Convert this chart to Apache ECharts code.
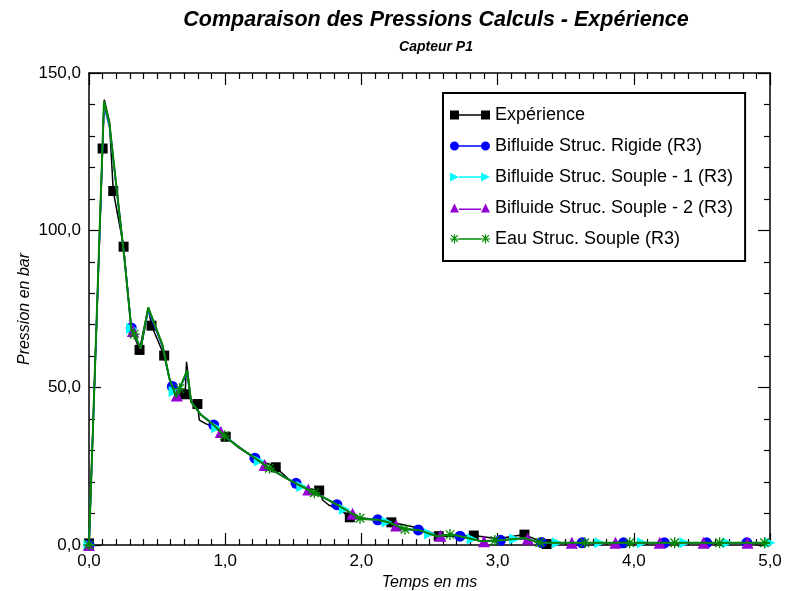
<!DOCTYPE html>
<html>
<head>
<meta charset="utf-8">
<script src="https://cdn.jsdelivr.net/npm/echarts@6/dist/echarts.min.js"></script>
<style>
  html, body { margin: 0; padding: 0; background: #fff; }
  #chart { width: 786px; height: 591px; }
</style>
</head>
<body>
<div id="chart"></div>
<script>
// Expérience : courbe mesurée + points repérés
const expTime = [0, 0.1, 0.112, 0.15, 0.178, 0.254, 0.31, 0.371, 0.435, 0.459, 0.552, 0.59, 0.64, 0.706, 0.716, 0.75, 0.796, 0.81, 0.86, 0.92, 1.004, 1.2, 1.371, 1.485, 1.6, 1.69, 1.715, 1.76, 1.85, 1.915, 2.0, 2.1, 2.22, 2.41, 2.5, 2.568, 2.7, 2.825, 3.0, 3.197, 3.36]
const expPress = [0.5, 126, 141.5, 134.5, 112.5, 94.8, 69, 62, 75.5, 69.7, 60.2, 53, 47.5, 47.9, 58.2, 45.5, 44.8, 39.7, 38.5, 37.5, 34.4, 28, 24.7, 20.2, 18, 17.3, 14.3, 12.7, 11, 8.8, 8.6, 8.2, 7.2, 5.5, 4.2, 2.8, 2.8, 3.0, 2.0, 3.3, 0.3]
const expMarkTime = [0, 0.1, 0.178, 0.254, 0.371, 0.459, 0.552, 0.706, 0.796, 1.004, 1.371, 1.69, 1.915, 2.22, 2.568, 2.825, 3.197, 3.36]
const expMarkPress = [0.5, 126, 112.5, 94.8, 62, 69.7, 60.2, 47.9, 44.8, 34.4, 24.7, 17.3, 8.8, 7.2, 2.8, 3.0, 3.3, 0.3]

// Calculs : pas de temps commun
const simTime = [0, 0.11, 0.15, 0.26, 0.31, 0.38, 0.435, 0.54, 0.59, 0.64, 0.72, 0.75, 0.82, 0.92, 1.0, 1.1, 1.22, 1.33, 1.47, 1.6, 1.7, 1.82, 1.95, 2.0, 2.12, 2.2, 2.32, 2.42, 2.5, 2.56, 2.66, 2.78, 2.88, 3.0, 3.1, 3.2, 3.3, 3.4, 5.0]
const rigidePress = [0, 139.5, 133, 91.5, 69.5, 62.5, 74.5, 63, 53, 47.5, 54.5, 45.5, 41.5, 38.3, 34.6, 31.1, 27.7, 24.3, 20.8, 17.9, 15.7, 12.9, 9.6, 8.4, 8.1, 7.2, 5.0, 4.8, 3.7, 2.9, 3.3, 2.3, 1.3, 1.5, 1.8, 2.1, 0.8, 0.7, 0.7]
const souple1Press = [0, 140, 133.5, 91, 69, 62.5, 75, 63.5, 53, 47.2, 55, 45.5, 41.5, 38, 34.5, 31, 27.6, 24.2, 20.7, 17.8, 15.6, 12.8, 9.5, 8.3, 8.0, 7.2, 5.0, 4.8, 3.6, 2.8, 3.3, 2.2, 1.2, 1.4, 1.8, 2.2, 0.8, 0.7, 0.7]
const souple2Press = [0, 140.5, 134, 91, 68.5, 62.3, 75.3, 63.5, 52.8, 47, 55.3, 45.4, 41.4, 37.9, 34.4, 30.9, 27.5, 24.1, 20.6, 17.8, 15.6, 12.8, 9.5, 8.3, 8.0, 7.2, 5.0, 4.8, 3.6, 2.8, 3.4, 2.2, 1.2, 1.4, 1.8, 2.2, 0.8, 0.7, 0.7]
const eauPress = [0, 141, 134, 91, 69, 62.5, 75.5, 63.5, 53, 47, 55.5, 45.5, 41.5, 38, 34.5, 31, 27.6, 24.2, 20.7, 17.8, 15.6, 12.8, 9.5, 8.3, 8.0, 7.2, 5.0, 4.8, 3.6, 2.8, 3.4, 2.2, 1.2, 1.4, 1.8, 2.2, 0.8, 0.7, 0.7]

// Symboles des calculs
const rigideMarkTime = [0, 0.31, 0.612, 0.916, 1.218, 1.52, 1.82, 2.12, 2.418, 2.724, 3.022, 3.322, 3.62, 3.925, 4.225, 4.535, 4.83]
const rigideMarkPress = [0, 69, 50.4, 38.1, 27.6, 19.6, 12.8, 8.0, 4.8, 2.8, 1.5, 0.8, 0.7, 0.7, 0.7, 0.7, 0.7]
const souple1MarkTime = [0, 0.3125, 0.625, 0.9375, 1.25, 1.5625, 1.875, 2.1875, 2.5, 2.8125, 3.125, 3.4375, 3.75, 4.0625, 4.375, 4.6875, 5.0]
const souple1MarkPress = [0, 68.8, 48.8, 37.3, 26.7, 18.6, 11.4, 7.3, 3.6, 1.9, 1.9, 0.7, 0.7, 0.7, 0.7, 0.7, 0.7]
const souple2MarkTime = [0, 0.322, 0.645, 0.968, 1.29, 1.61, 1.935, 2.255, 2.58, 2.9, 3.222, 3.545, 3.865, 4.19, 4.512, 4.835]
const souple2MarkPress = [0, 68, 47.5, 35.9, 25.4, 17.6, 9.9, 6.2, 2.9, 1.2, 2.0, 0.7, 0.7, 0.7, 0.7, 0.7]
const eauMarkTime = [0, 0.332, 0.665, 0.995, 1.325, 1.655, 1.99, 2.32, 2.65, 2.98, 3.31, 3.64, 3.97, 4.3, 4.63, 4.96]
const eauMarkPress = [0, 67, 49.7, 34.7, 24.4, 16.6, 8.5, 5.0, 3.3, 1.4, 0.8, 0.7, 0.7, 0.7, 0.7, 0.7]

const xTicks = { min: 0, max: 5, interval: 1 }
const yTicks = { min: 0, max: 150, interval: 50 }

const starPath = 'path://M0,4.4h10v1.2h-10z M4.4,0h1.2v10h-1.2z M0.7,1.5L1.5,0.7L9.3,8.5L8.5,9.3z M8.5,0.7L9.3,1.5L1.5,9.3L0.7,8.5z'
const triRightPath = 'path://M0,0L10,5L0,10z'

const legendIcons = {
  sq: 'path://M0,0.5h9v9h-9z M9,4.3h22v1.4h-22z M31,0.5h9v9h-9z',
  circ: 'path://M0,5a4.5,4.5 0 1,1 9,0a4.5,4.5 0 1,1 -9,0z M9,4.3h22v1.4h-22z M31,5a4.5,4.5 0 1,1 9,0a4.5,4.5 0 1,1 -9,0z',
  triR: 'path://M0,0.5L9,5L0,9.5z M9,4.3h22v1.4h-22z M31,0.5L40,5L31,9.5z',
  triU: 'path://M4.5,0.5L9,9.5L0,9.5z M9,5.5h22v1.4h-22z M35.5,0.5L40,9.5L31,9.5z',
  star: 'path://M0,4.4h9v1.2h-9z M3.9,0.5h1.2v9h-1.2z M0.7,1.5L1.5,0.7L8.3,7.5L7.5,8.3z M7.5,0.7L8.3,1.5L1.5,8.3L0.7,7.5z M9,4.3h22v1.4h-22z M31,4.4h9v1.2h-9z M34.9,0.5h1.2v9h-1.2z M31.7,1.5L32.5,0.7L39.3,7.5L38.5,8.3z M38.5,0.7L39.3,1.5L32.5,8.3L31.7,7.5z'
}

const names = ['Expérience', 'Bifluide Struc. Rigide (R3)', 'Bifluide Struc. Souple - 1 (R3)', 'Bifluide Struc. Souple - 2 (R3)', 'Eau Struc. Souple (R3)']
const colors = ['#000000', '#0000ff', '#00ffff', '#9400d3', '#008800']

function pairs(xs, ys) {
  return xs.map((x, i) => [x, ys[i]])
}
function comma(v) {
  return v.toFixed(1).replace('.', ',')
}

const font = 'Liberation Sans, Arial, Helvetica, sans-serif'

function xAxisOf(pos, withLabel) {
  return {
    type: 'value',
    position: pos,
    ...xTicks,
    name: withLabel ? 'Temps en ms' : '',
    nameLocation: 'middle',
    nameGap: 30,
    nameMoveOverlap: false,
    nameTextStyle: { fontFamily: font, fontSize: 16, fontStyle: 'italic', color: '#000' },
    axisLine: { show: true, onZero: false, lineStyle: { color: '#000', width: 1.5 } },
    axisTick: { show: true, inside: true, length: 12, lineStyle: { color: '#000', width: 1.2 } },
    minorTick: { show: true, splitNumber: 10, length: 6, lineStyle: { color: '#000', width: 1.2 } },
    axisLabel: { show: withLabel, formatter: comma, fontFamily: font, fontSize: 17, color: '#000', margin: 8 },
    splitLine: { show: false },
    minorSplitLine: { show: false }
  }
}
function yAxisOf(pos, withLabel) {
  return {
    type: 'value',
    position: pos,
    ...yTicks,
    name: withLabel ? 'Pression en bar' : '',
    nameLocation: 'middle',
    nameGap: 56,
    nameMoveOverlap: false,
    nameTextStyle: { fontFamily: font, fontSize: 16, fontStyle: 'italic', color: '#000' },
    axisLine: { show: true, onZero: false, lineStyle: { color: '#000', width: 1.5 } },
    axisTick: { show: true, inside: true, length: 12, lineStyle: { color: '#000', width: 1.2 } },
    minorTick: { show: true, splitNumber: 5, length: 6, lineStyle: { color: '#000', width: 1.2 } },
    axisLabel: { show: withLabel, formatter: comma, fontFamily: font, fontSize: 17, color: '#000', margin: 8 },
    splitLine: { show: false },
    minorSplitLine: { show: false }
  }
}

function lineSeries(i, xs, ys, width) {
  return {
    name: names[i],
    type: 'line',
    data: pairs(xs, ys),
    showSymbol: false,
    symbol: 'none',
    color: colors[i],
    lineStyle: { color: colors[i], width: width },
    z: 2 + i
  }
}
function markSeries(i, xs, ys, symbol, size) {
  return {
    name: names[i],
    type: 'scatter',
    data: pairs(xs, ys),
    symbol: symbol,
    symbolSize: size,
    color: colors[i],
    itemStyle: { color: colors[i], opacity: 1 },
    z: 2 + i
  }
}

const chart = echarts.init(document.getElementById('chart'), null, { renderer: 'canvas' })
chart.setOption({
  animation: false,
  backgroundColor: '#fff',
  title: [
    {
      text: 'Comparaison des Pressions Calculs - Expérience',
      left: 431,
      top: 4,
      textAlign: 'center',
      textStyle: { fontFamily: font, fontSize: 21.5, fontWeight: 'bold', fontStyle: 'italic', color: '#000' }
    },
    {
      text: 'Capteur P1',
      left: 431,
      top: 35,
      textAlign: 'center',
      textStyle: { fontFamily: font, fontSize: 14, fontWeight: 'bold', fontStyle: 'italic', color: '#000' }
    }
  ],
  grid: { left: 89, right: 16, top: 73, bottom: 46, containLabel: false, outerBoundsMode: 'none' },
  legend: {
    orient: 'vertical',
    left: 443,
    top: 93,
    padding: [13, 12, 13, 7],
    itemWidth: 40,
    itemHeight: 10,
    itemGap: 13,
    borderColor: '#000',
    borderWidth: 2,
    backgroundColor: '#fff',
    textStyle: { fontFamily: font, fontSize: 18, color: '#000' },
    data: [
      { name: names[0], icon: legendIcons.sq },
      { name: names[1], icon: legendIcons.circ },
      { name: names[2], icon: legendIcons.triR },
      { name: names[3], icon: legendIcons.triU },
      { name: names[4], icon: legendIcons.star }
    ]
  },
  xAxis: [xAxisOf('bottom', true), xAxisOf('top', false)],
  yAxis: [yAxisOf('left', true), yAxisOf('right', false)],
  series: [
    lineSeries(0, expTime, expPress, 1.5),
    markSeries(0, expMarkTime, expMarkPress, 'rect', 10),
    lineSeries(1, simTime, rigidePress, 1.5),
    markSeries(1, rigideMarkTime, rigideMarkPress, 'circle', 11),
    lineSeries(2, simTime, souple1Press, 1.5),
    markSeries(2, souple1MarkTime, souple1MarkPress, triRightPath, 11),
    lineSeries(3, simTime, souple2Press, 1.5),
    markSeries(3, souple2MarkTime, souple2MarkPress, 'triangle', 12),
    lineSeries(4, simTime, eauPress, 2),
    markSeries(4, eauMarkTime, eauMarkPress, starPath, 11)
  ]
})
</script>
</body>
</html>
